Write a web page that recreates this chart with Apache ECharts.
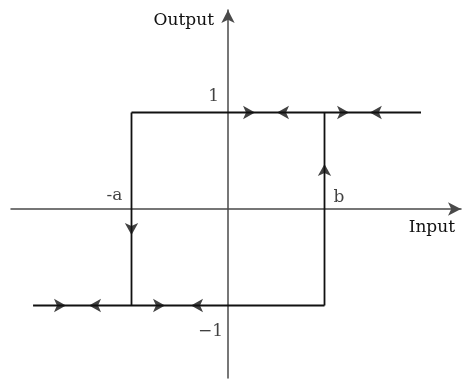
<!DOCTYPE html>
<html>
<head>
<meta charset="utf-8">
<script src="https://cdn.jsdelivr.net/npm/echarts@6/dist/echarts.min.js"></script>
<style>
  html, body { margin: 0; padding: 0; background: #fff; }
  #chart { width: 463px; height: 380px; }
</style>
</head>
<body>
<div id="chart"></div>
<script>
// ---- data (input / output units: a = b = 1, output levels = ±1) ----
const axisNames = ['Input', 'Output'];
const inputThresholds = [-1, 1];            // -a, b
const inputThresholdLabels = ['-a', 'b'];
const outputLevels = [1, -1];
const outputLevelLabels = ['1', '\u22121'];

// hysteresis loop segments
const upperBranch = [[-1, 1], [2.0, 1]];
const lowerBranch = [[-2.02, -1], [1, -1]];
const switchDown = [[-1, 1], [-1, -1]];   // at input = -a
const switchUp = [[1, -1], [1, 1]];       // at input = b

// direction arrows (centres)
const arrowsRight = [[0.28, 1], [1.254, 1], [-1.679, -1], [-0.653, -1]];
const arrowsLeft = [[0.508, 1], [1.47, 1], [-1.44, -1], [-0.383, -1]];
const arrowsDown = [[-1, -0.269]];
const arrowsUp = [[1, 0.466]];

// ---- chart ----
const FONT = 'DejaVu Serif';
const LINE = { color: '#111', width: 1.8 };

function segment(name, data) {
  return {
    name: name, type: 'line', data: data, symbol: 'none',
    lineStyle: LINE, silent: true, z: 3
  };
}
function arrows(name, data, rot) {
  return {
    name: name, type: 'scatter', data: data, symbol: 'arrow',
    symbolSize: [10, 12], symbolRotate: rot,
    itemStyle: { color: '#111' }, silent: true, z: 5
  };
}

const labelOffsets = {
  '-a': { align: 'right', offset: [-9, -13] },
  'b': { align: 'left', offset: [9, -11] },
  '1': { align: 'right', offset: [-9, -15.5] },
  '\u22121': { align: 'right', offset: [-5, 26] }
};
const labelData = [];
inputThresholds.forEach((v, i) => labelData.push({ value: [v, 0], name: inputThresholdLabels[i] }));
outputLevels.forEach((v, i) => labelData.push({ value: [0, v], name: outputLevelLabels[i] }));
labelData.forEach(d => {
  const o = labelOffsets[d.name];
  d.label = {
    show: true, position: 'inside', formatter: d.name,
    align: o.align, verticalAlign: 'middle', offset: o.offset,
    fontFamily: FONT, fontSize: 17, color: '#111'
  };
});

const axisLine = {
  show: true, onZero: true,
  symbol: ['none', 'arrow'], symbolSize: [10, 13],
  lineStyle: { color: '#4a4a4a', width: 1.5 }
};

const option = {
  animation: false,
  backgroundColor: '#fff',
  grid: { left: 11, right: 2, top: 10, bottom: 2, containLabel: false },
  xAxis: {
    type: 'value', min: -2.2487, max: 2.4145,
    axisLine: axisLine, axisTick: { show: false }, axisLabel: { show: false },
    splitLine: { show: false },
    name: axisNames[0], nameLocation: 'end', nameGap: -6,
    nameTextStyle: { fontFamily: FONT, fontSize: 17, color: '#111',
      align: 'right', verticalAlign: 'top', padding: [10, 0, 0, 0] }
  },
  yAxis: {
    type: 'value', min: -1.7513, max: 2.0622,
    axisLine: axisLine, axisTick: { show: false }, axisLabel: { show: false },
    splitLine: { show: false },
    name: axisNames[1], nameLocation: 'end', nameGap: -10.5,
    nameTextStyle: { fontFamily: FONT, fontSize: 17, color: '#111',
      align: 'right', verticalAlign: 'middle', padding: [0, 14, 0, 0] }
  },
  series: [
    segment('upper', upperBranch),
    segment('lower', lowerBranch),
    segment('switchDown', switchDown),
    segment('switchUp', switchUp),
    arrows('right', arrowsRight, -90),
    arrows('left', arrowsLeft, 90),
    arrows('down', arrowsDown, 180),
    arrows('up', arrowsUp, 0),
    {
      name: 'labels', type: 'scatter', data: labelData,
      symbolSize: 0, silent: true, z: 6
    }
  ]
};

const chart = echarts.init(document.getElementById('chart'), null, { renderer: 'canvas' });
chart.setOption(option);
</script>
</body>
</html>
